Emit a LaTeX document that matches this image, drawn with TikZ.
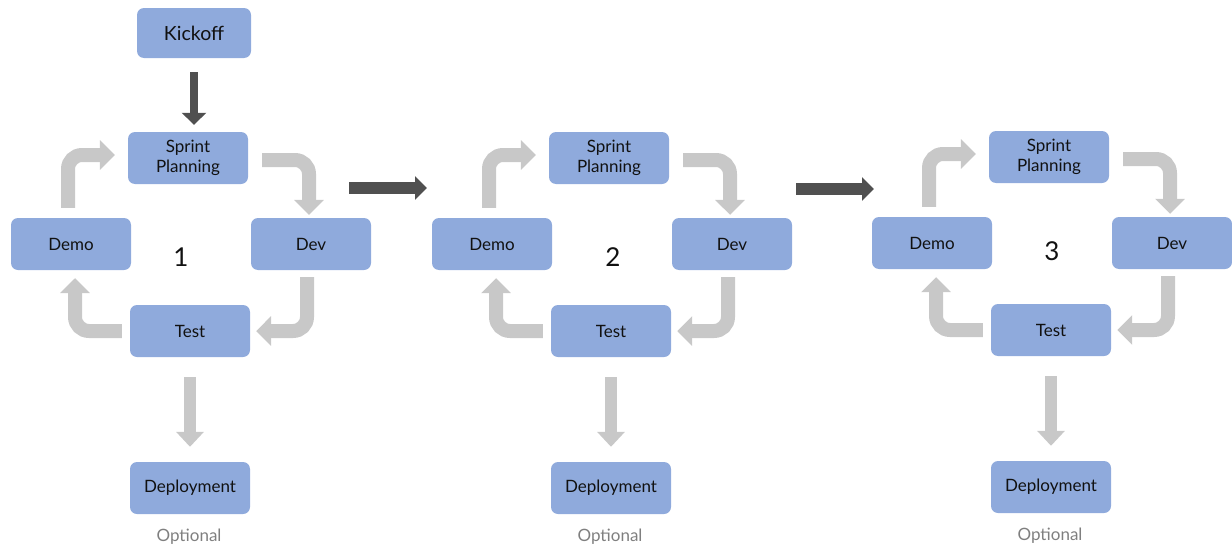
\documentclass[tikz,border=0pt]{standalone}
\usepackage{fontspec}
\setmainfont{Lato}
\usetikzlibrary{arrows.meta,calc}
\definecolor{boxblue}{HTML}{8FAADC}
\definecolor{garrow}{HTML}{C8C8C8}
\definecolor{darrow}{HTML}{505050}
\definecolor{txt}{HTML}{111111}
\definecolor{optgray}{HTML}{7F7F7F}
\begin{document}
\begin{tikzpicture}[x=1pt,y=-1pt,
  box/.style={fill=boxblue, rounded corners=7pt, minimum width=120pt, minimum height=52pt,
    inner sep=0pt, align=center, text=txt, font=\fontsize{17}{20.5}\selectfont},
  kickbox/.style={box, minimum width=114pt, minimum height=50pt, font=\fontsize{19.5}{23}\selectfont},
  cyc/.style={draw=garrow, line width=14pt, rounded corners=14pt, -{Triangle[width=29pt,length=15pt]}},
  down/.style={draw=garrow, line width=12.5pt, -{Triangle[width=27pt,length=15pt]}},
  dark/.style={draw=darrow, line width=8pt, -{Triangle[width=24pt,length=12pt]}},
  darkh/.style={draw=darrow, line width=12pt, -{Triangle[width=23pt,length=12pt]}},
  optlbl/.style={text=optgray, font=\fontsize{17}{20}\selectfont, inner sep=0pt},
  numlbl/.style={text=txt, font=\fontsize{26}{30}\selectfont, inner sep=0pt}]
\useasboundingbox (0,0) rectangle (1232,546);

\node[kickbox] (kick) at (194,33) {Kickoff};

\foreach \i/\dx/\dy/\nx/\ny in {1/0/0/181/257, 2/421/0/613/257, 3/861/-1/1052/251} {
  \node[numlbl] (num\i) at (\nx,\ny) {\i};
  \begin{scope}[shift={(\dx,\dy)}]
    \node[box] (sp\i) at (188,158) {Sprint\\Planning};
    \node[box] (demo\i) at (71,244) {Demo};
    \node[box] (dev\i) at (311,244) {Dev};
    \node[box] (test\i) at (190,331) {Test};
    \node[box] (dep\i) at (190,488) {Deployment};
    \node[optlbl] (opt\i) at (189,537) {Optional};
    \draw[cyc] ([xshift=-3pt,yshift=10pt]demo\i.north) |- ([xshift=-13pt,yshift=3pt]sp\i.west);
    \draw[cyc] ([xshift=14pt,yshift=-2pt]sp\i.east) -| ([xshift=-2pt,yshift=3pt]dev\i.north);
    \draw[cyc] ([xshift=-4pt,yshift=-7pt]dev\i.south) |- ([xshift=6pt]test\i.east);
    \draw[cyc] ([xshift=-8pt]test\i.west) -| ([xshift=4pt,yshift=-8pt]demo\i.south);
    \draw[down] ([yshift=-20pt]test\i.south) -- ([yshift=15pt]dep\i.north);
  \end{scope}
}

\draw[dark] ([yshift=-14pt]kick.south) -- ([yshift=7pt]kick.south |- sp1.north);

\coordinate (h1s) at (349,188);
\coordinate (h1e) at (427,188);
\coordinate (h2s) at (796,189);
\coordinate (h2e) at (874,189);
\draw[darkh] (h1s) -- (h1e);
\draw[darkh] (h2s) -- (h2e);
\end{tikzpicture}
\end{document}
